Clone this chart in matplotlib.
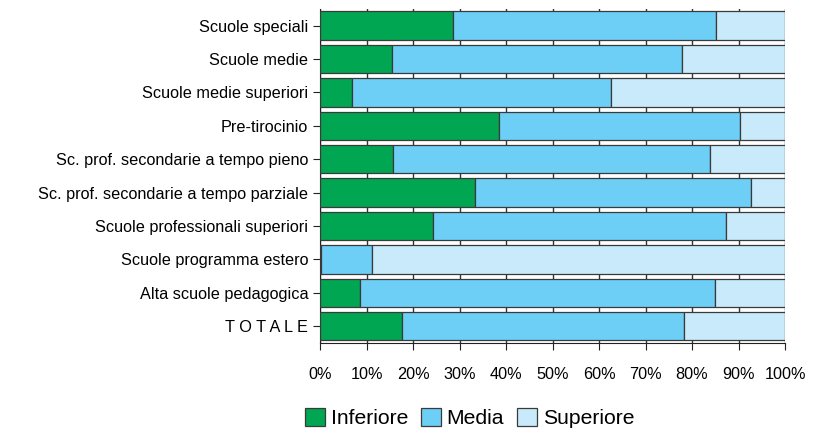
import numpy as np
import matplotlib.pyplot as plt
from matplotlib.ticker import FuncFormatter

plt.rcParams['font.family'] = ['Liberation Sans', 'DejaVu Sans']

categories = ['Scuole speciali', 'Scuole medie', 'Scuole medie superiori', 'Pre-tirocinio',
              'Sc. prof. secondarie a tempo pieno', 'Sc. prof. secondarie a tempo parziale',
              'Scuole professionali superiori', 'Scuole programma estero',
              'Alta scuole pedagogica', 'T O T A L E']
inferiore = [28.5, 15.5, 6.8, 38.5, 15.8, 33.3, 24.2, 0.3, 8.5, 17.7]
media = [56.7, 62.4, 55.7, 51.8, 68.1, 59.4, 63.2, 10.9, 76.4, 60.6]
superiore = [100 - a - b for a, b in zip(inferiore, media)]

series = [('Inferiore', inferiore, '#00a651'),
          ('Media', media, '#6dcff6'),
          ('Superiore', superiore, '#c8eafa')]

fig = plt.figure(figsize=(8.13, 4.28), dpi=100)
ax = fig.add_axes([0.3936, 0.1986, 0.572, 0.7804])

y = np.arange(len(categories))
left = np.zeros(len(categories))
for name, vals, color in series:
    ax.barh(y, vals, left=left, height=0.85, color=color, edgecolor='#3a3a3a',
            linewidth=0.9, label=name, zorder=3)
    left += np.array(vals)

ax.set_xlim(0, 100)
ax.set_ylim(len(categories) - 0.5, -0.5)
ax.set_yticks(y)
ax.set_yticklabels(categories, fontsize=11.7)
ax.set_xticks(np.arange(0, 101, 10))
ax.xaxis.set_major_formatter(FuncFormatter(lambda v, _: f'{v:.0f}%'))
ax.tick_params(axis='x', labelsize=11.7, length=5, pad=12, color='#222222')
ax.tick_params(axis='y', length=5, color='#222222')
ax.grid(axis='x', color='#333333', linewidth=1.0, zorder=0)
for s in ['top', 'right']:
    ax.spines[s].set_visible(False)
for s in ['left', 'bottom']:
    ax.spines[s].set_color('#222222')

ax.legend(loc='center', bbox_to_anchor=(0.3215, -0.225), ncol=3, frameon=False,
          fontsize=15.2, handlelength=0.95, handleheight=0.95, handletextpad=0.28,
          columnspacing=0.6, borderpad=0)

plt.savefig('out.png', dpi=100)
plt.close()
